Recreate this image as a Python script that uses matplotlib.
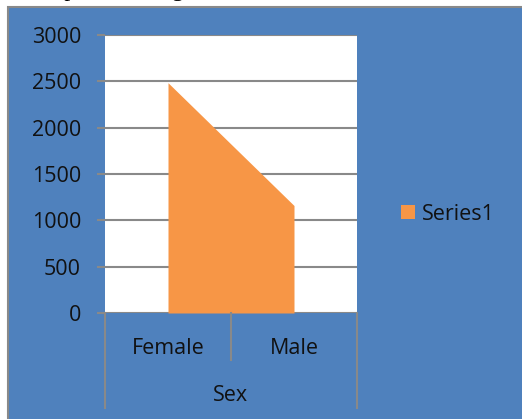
import matplotlib
matplotlib.use('Agg')
import matplotlib.pyplot as plt
from matplotlib.patches import Rectangle, Patch
from matplotlib.transforms import blended_transform_factory

# data
categories = ['Female', 'Male']
values = [2485, 1160]
y_ticks = [0, 500, 1000, 1500, 2000, 2500, 3000]
series_name = 'Series1'
axis_title = 'Sex'

blue = '#4F81BD'
orange = '#F79646'
grey = '#898989'
font = 'Open Sans'
fs = 15.5

W, H = 522, 419
fig = plt.figure(figsize=(W / 100, H / 100), dpi=100, facecolor='white')

# cropped line of document text above the chart
fig.text(2 / W, 1 + 4 / H, 'and depicted in Figure', family='Liberation Serif',
         fontsize=17, va='baseline', ha='left', color='black', zorder=-2)

# blue chart area with grey border
fig.patches.append(Rectangle((8 / W, -0.01), 1, 1.01 - 7 / H, transform=fig.transFigure,
                             facecolor=blue, edgecolor=grey, linewidth=1.5, zorder=-1))

ax = fig.add_axes([105 / W, 1 - 313 / H, 252 / W, 278 / H])
ax.set_facecolor('white')

x_pos = [i + 0.5 for i in range(len(categories))]
ax.fill_between(x_pos, values, 0, color=orange, linewidth=0, zorder=2)

ax.set_xlim(0, len(categories))
ax.set_ylim(0, 3000)
ax.set_yticks(y_ticks)
ax.set_yticklabels([str(t) for t in y_ticks], family=font, fontsize=fs, color='#111111')
ax.yaxis.grid(True, color=grey, linewidth=1.5, zorder=1)
ax.set_axisbelow(True)
ax.tick_params(axis='y', length=5.8, width=1.5, color=grey, pad=11.5)
ax.set_xticks([])
for s in ax.spines.values():
    s.set_visible(False)

# category axis: separators, labels and title below the plot
tr = blended_transform_factory(ax.transData, ax.transAxes)
for i in range(len(categories) + 1):
    bottom = -0.342 if i in (0, len(categories)) else -0.169
    ax.plot([i, i], [0, bottom], color=grey, linewidth=1.5, transform=tr, clip_on=False)
for xp, c in zip(x_pos, categories):
    ax.text(xp, -0.1475, c, transform=tr, ha='center', va='baseline',
            family=font, fontsize=fs, color='#111111')
ax.text(len(categories) / 2, -0.318, axis_title, transform=tr, ha='center', va='baseline',
        family=font, fontsize=fs, color='#111111')

fig.legend(handles=[Patch(facecolor=orange, edgecolor='none', label=series_name)],
           loc='center left', bbox_to_anchor=(401 / W, 1 - 214 / H), frameon=False,
           prop={'family': font, 'size': fs}, labelcolor='#111111',
           borderpad=0, borderaxespad=0,
           handlelength=0.65, handleheight=0.62, handletextpad=0.33)

fig.savefig('out.png', dpi=100)
